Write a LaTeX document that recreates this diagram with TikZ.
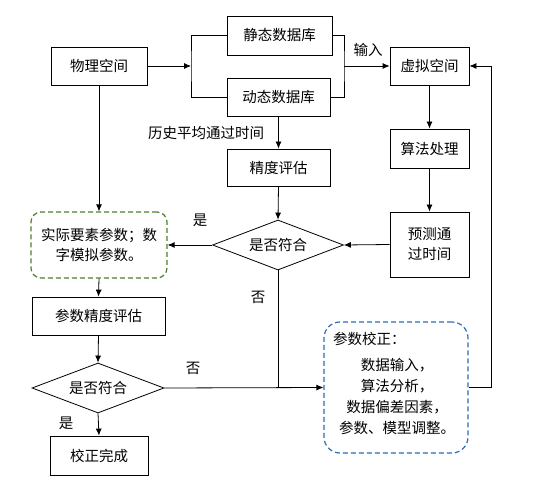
\documentclass[tikz,border=0pt]{standalone}
\usepackage{fontspec}
\setmainfont{Noto Sans CJK SC}
\usetikzlibrary{shapes.geometric,arrows.meta}
\definecolor{dgreen}{HTML}{4E7F2E}
\definecolor{dblue}{HTML}{2F6DB5}
\begin{document}
\begin{tikzpicture}[x=1pt,y=-1pt,
  every node/.style={font=\fontsize{14.5}{20}\selectfont, inner sep=0pt},
  box/.style={draw, line width=0.8pt, minimum width=#1, anchor=center},
  dia/.style={draw, line width=0.8pt, diamond, aspect=2.62, minimum width=131, minimum height=50},
  arr/.style={line width=0.8pt, -{Latex[length=7pt,width=6pt]}},
  ln/.style={line width=0.8pt}]
\useasboundingbox (0,0) rectangle (546,486);
\node[box=96, minimum height=38] (phys) at (99,66) {物理空间};
\node[box=105, minimum height=39] (stat) at (279.5,35.5) {静态数据库};
\node[box=103, minimum height=38] (dyn) at (278.5,97) {动态数据库};
\node[box=79, minimum height=38] (virt) at (429.5,66) {虚拟空间};
\node[box=103, minimum height=37] (acc) at (278.5,167.5) {精度评估};
\node[box=79, minimum height=39] (alg) at (429.5,148.5) {算法处理};
\node[box=79, minimum height=65, align=center] (pred) at (429.5,244.5) {预测通\\过时间};
\node[draw=dgreen, line width=1.2pt, dash pattern=on 5pt off 3pt, rounded corners=10pt,
      minimum width=136, minimum height=66, align=center] (green) at (99,245) {实际要素参数；数\\字模拟参数。};
\node[box=133, minimum height=38] (param) at (98.5,316) {参数精度评估};
\node[box=98, minimum height=39] (done) at (99,455.5) {校正完成};
\node[dia] (d1) at (278,245) {是否符合};
\node[dia, minimum width=132] (d2) at (98,388) {是否符合};
\node[draw=dblue, line width=1.2pt, dash pattern=on 5pt off 3pt, rounded corners=16pt,
      minimum width=144, minimum height=131] (blue) at (396,387.5) {};
\node[anchor=west] (bt0) at (333,339) {参数校正：};
\node (bt1) at (397,365) {数据输入，};
\node (bt2) at (397,386) {算法分析，};
\node (bt3) at (397,407) {数据偏差因素，};
\node (bt4) at (397,428) {参数、模型调整。};
\coordinate (bl) at (191,66);
\coordinate (br) at (344,66);
\draw[ln] (stat.west) -| (bl) |- (dyn.west);
\draw[arr] (phys) -- (bl);
\draw[ln] (stat.east) -| (br) |- (dyn.east);
\draw[arr] (br) -- (virt);
\node (inp) at (368,50) {输入};
\draw[arr] (dyn.south) -- (acc.north);
\node (hist) at (206,133) {历史平均通过时间};
\draw[arr] (acc.south) -- (d1.north);
\draw[arr] (pred.west) -- (d1.east);
\draw[arr] (d1.west) -- (green.east);
\node (yes1) at (200,220) {是};
\draw[arr] (phys.south) -- (green.north);
\draw[arr] (green.south) -- (param.north);
\draw[arr] (param.south) -- (d2.north);
\draw[arr] (d2.south) -- (done.north);
\node (yes2) at (66,423) {是};
\draw[arr] (d2.east) -- (blue.west);
\node (no2) at (193,368) {否};
\draw[ln] (d1.south) -- (d1.south |- d2.east);
\node (no1) at (258,297) {否};
\draw[arr] (blue.east) -- ++(23,0) |- (virt.east);
\draw[arr] (virt.south) -- (alg.north);
\draw[arr] (alg.south) -- (pred.north);
\end{tikzpicture}
\end{document}
